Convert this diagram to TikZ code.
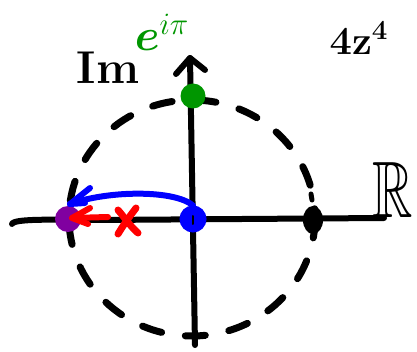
\documentclass[tikz,border=0pt]{standalone}
\usepackage{amsmath,amssymb}
\usetikzlibrary{arrows.meta,shapes.geometric}
\definecolor{pgreen}{RGB}{0,150,0}
\definecolor{pblue}{RGB}{0,0,255}
\definecolor{pred}{RGB}{255,0,0}
\definecolor{ppurple}{RGB}{128,0,160}
\tikzset{
  ink/.style={line width=6pt, line cap=round, line join=round},
  dashcircle/.style={ink, line width=7pt, dash pattern=on 20pt off 24pt},
  lbl/.style={inner sep=0pt, font=\bfseries},
}
\begin{document}
\begin{tikzpicture}[x=1pt,y=-1pt]
\useasboundingbox (0,0) rectangle (417,352);
% dashed unit circle
\draw[dashcircle] (192,218) ellipse (123 and 118);
% axes
\coordinate (xl) at (12,224);
\coordinate (xr) at (384,218);
\coordinate (yb) at (195,345);
\coordinate (yt) at (190,58);
\draw[ink] (xl) .. controls (14,218) and (60,220) .. (100,220) -- (xr);
\draw[ink] (yb) -- (yt);
\draw[ink] (176,74) -- (yt) -- (205,70);
% points
\node[circle, fill=pgreen, minimum size=25pt, inner sep=0pt] (i) at (193,96) {};
\node[circle, draw=pblue, line width=5pt, fill=pblue, minimum size=22pt, inner sep=0pt] (o) at (193,219) {};
\draw[ink, line width=2pt] (193,216) -- (193,224);
\node[ellipse, fill=black, minimum width=20pt, minimum height=28pt, inner sep=0pt] (one) at (313,220) {};
\draw[ink, line width=5pt] (312,200) -- (311,194);
\node[circle, fill=ppurple, minimum size=26pt, inner sep=0pt] (m) at (68,219) {};
% blue arc arrow
\draw[ink, pblue] (o.north) .. controls (175,190) and (110,190) .. (70,204);
\draw[ink, pblue] (90,188) -- (70,204) -- (85,203);
% red arrow and x
\draw[ink, pred] (108,217) -- (72,218);
\draw[ink, pred] (90,208) -- (72,218) -- (88,224);
\draw[ink, pred, line width=7pt] (118,210) .. controls (125,218) and (130,226) .. (138,233);
\draw[ink, pred, line width=7pt] (136,208) .. controls (130,216) and (124,224) .. (118,234);
% labels
\node[lbl, font=\fontsize{46}{46}\selectfont\bfseries] (im) at (108,68) {Im};
\node[lbl, font=\fontsize{80}{80}\selectfont, xscale=0.7] (re) at (393,190) {$\mathbb{R}$};
\node[lbl, text=pgreen, font=\fontsize{24}{24}\selectfont\bfseries, scale=1.8] (e) at (162,32) {$\boldsymbol{e}^{i\pi}$};
\node[lbl, font=\fontsize{24}{24}\selectfont\bfseries, scale=1.6] (z) at (359,38) {$\mathbf{4z}^{\mathbf 4}$};
\end{tikzpicture}
\end{document}
